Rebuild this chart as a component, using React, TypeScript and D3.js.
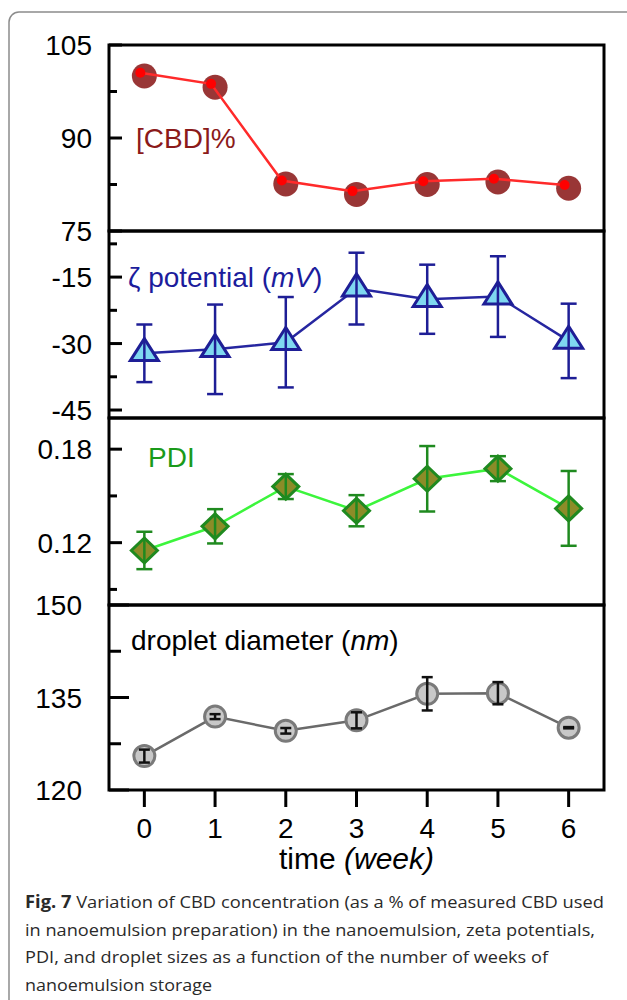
import React from 'react';
import * as d3 from 'd3';

// weeks of storage
const weeks = [0, 1, 2, 3, 4, 5, 6];

// [CBD]%
const cbdPercent = [100.0, 98.2, 82.6, 80.9, 82.5, 82.9, 81.9];
const cbdTicks = [105, 90, 75];
const cbdMinor = [97.5, 82.5];

// zeta potential (mV)
const zetaMean = [-32.2, -31.3, -29.7, -17.6, -20.0, -19.4, -29.4];
const zetaErr = [6.5, 10.1, 10.2, 8.1, 7.8, 9.1, 8.4];
const zetaTicks = [-15, -30, -45];
const zetaMinor = [-7.5, -22.5, -37.5];

// PDI
const pdiMean = [0.115, 0.1305, 0.156, 0.1405, 0.161, 0.1675, 0.142];
const pdiErr = [0.012, 0.011, 0.008, 0.01, 0.021, 0.008, 0.024];
const pdiTicks = [0.18, 0.12];
const pdiMinor = [0.15, 0.09];

// droplet diameter (nm)
const diameterMean = [125.5, 131.9, 129.6, 131.3, 135.6, 135.7, 130.1];
const diameterErr = [1.05, 0.4, 0.45, 1.3, 2.7, 1.8, 0.1];
const diameterTicks = [150, 135, 120];
const diameterMinor = [142.5, 127.5];

const captionLines = [
  'Variation of CBD concentration (as a % of measured CBD used',
  'in nanoemulsion preparation) in the nanoemulsion, zeta potentials,',
  'PDI, and droplet sizes as a function of the number of weeks of',
  'nanoemulsion storage',
];

const W = 627;
const H = 1000;
const left = 109;
const right = 604;
const bounds = [45, 231, 418, 605, 790];
const font = '"Liberation Sans", Arial, sans-serif';

const x = d3.scaleLinear().domain([-0.5, 6.5]).range([left, right]);

const yCbd = d3.scaleLinear().domain([75, 105]).range([bounds[1], bounds[0]]);
const yZeta = d3.scaleLinear().domain([-46.8, -4.6]).range([bounds[2], bounds[1]]);
const yPdi = d3.scaleLinear().domain([0.08, 0.2]).range([bounds[3], bounds[2]]);
const yDia = d3.scaleLinear().domain([120, 150]).range([bounds[4], bounds[3]]);

const fmt = (v) => (Math.abs(v) < 1 ? d3.format('.2f')(v) : String(v));

const YAxis = ({ y, ticks, minor, labelX, majorLen, minorLen }) => (
  <g>
    {ticks.map((t) => (
      <g key={'M' + t}>
        <line x1={left} x2={left + majorLen} y1={y(t)} y2={y(t)} stroke="#000" strokeWidth={3} />
        <text x={labelX} y={y(t)} dy="0.36em" textAnchor="end" fontSize={28} fontFamily={font} fill="#000">
          {fmt(t)}
        </text>
      </g>
    ))}
    {minor.map((t) => (
      <line key={'m' + t} x1={left} x2={left + minorLen} y1={y(t)} y2={y(t)} stroke="#000" strokeWidth={3} />
    ))}
  </g>
);

const ErrorBars = ({ y, mean, err, color, cap = 16, width = 2.5 }) => (
  <g stroke={color} strokeWidth={width}>
    {weeks.map((w, i) => {
      const cx = x(w);
      const y1 = y(mean[i] + err[i]);
      const y2 = y(mean[i] - err[i]);
      return (
        <g key={w}>
          <line x1={cx} x2={cx} y1={y1} y2={y2} />
          <line x1={cx - cap / 2} x2={cx + cap / 2} y1={y1} y2={y1} />
          <line x1={cx - cap / 2} x2={cx + cap / 2} y1={y2} y2={y2} />
        </g>
      );
    })}
  </g>
);

export default function App() {
  const cbdLine = d3.line().x((d) => x(d[0]) - 4).y((d) => yCbd(d[1]) - 3.3);
  const zetaLine = d3.line().x((d) => x(d[0])).y((d) => yZeta(d[1]));
  const pdiLine = d3.line().x((d) => x(d[0])).y((d) => yPdi(d[1]));
  const diaLine = d3.line().x((d) => x(d[0])).y((d) => yDia(d[1]));

  return (
    <svg
      width={W}
      height={H}
      viewBox={`0 0 ${W} ${H}`}
      style={{ position: 'absolute', left: 0, top: 0, background: '#fff' }}
    >
      {/* card */}
      <rect x={9} y={12} width={700} height={1100} rx={10} fill="#fff" stroke="#8c8c8c" strokeWidth={1.5} />

      {/* panel 1: CBD % */}
      <g>
        {weeks.map((w, i) => (
          <circle key={w} cx={x(w)} cy={yCbd(cbdPercent[i])} r={12.5} fill="#8b1a1a" fillOpacity={0.88} />
        ))}
        <path d={cbdLine(weeks.map((w, i) => [w, cbdPercent[i]]))} fill="none" stroke="#ff2a2a" strokeWidth={2.5} />
        {weeks.map((w, i) => (
          <circle key={w} cx={x(w) - 4} cy={yCbd(cbdPercent[i]) - 3.3} r={5} fill="#ff0000" />
        ))}
        <text x={136} y={138} dy="0.36em" fontSize={28} fontFamily={font} fill="#8b1a1a">
          [CBD]%
        </text>
        <YAxis y={yCbd} ticks={cbdTicks} minor={cbdMinor} labelX={92} majorLen={13} minorLen={8} />
      </g>

      {/* panel 2: zeta potential */}
      <g>
        <path d={zetaLine(weeks.map((w, i) => [w, zetaMean[i]]))} fill="none" stroke="#2626a0" strokeWidth={2.5} />
        {weeks.map((w, i) => {
          const cx = x(w);
          const cy = yZeta(zetaMean[i]);
          return (
            <path
              key={w}
              d={`M${cx},${cy - 14.7}L${cx + 14},${cy + 7.3}L${cx - 14},${cy + 7.3}Z`}
              fill="#7fd8f0"
              stroke="#1e1e96"
              strokeWidth={3}
              strokeLinejoin="miter"
            />
          );
        })}
        <ErrorBars y={yZeta} mean={zetaMean} err={zetaErr} color="#1e1e96" />
        <text x={128} y={277} dy="0.36em" fontSize={28} fontFamily={font} fill="#1c1c9c">
          ζ potential (<tspan fontStyle="italic">mV</tspan>)
        </text>
        <YAxis y={yZeta} ticks={zetaTicks} minor={zetaMinor} labelX={92} majorLen={13} minorLen={8} />
      </g>

      {/* panel 3: PDI */}
      <g>
        <path d={pdiLine(weeks.map((w, i) => [w, pdiMean[i]]))} fill="none" stroke="#3cf53c" strokeWidth={2.5} />
        {weeks.map((w, i) => {
          const cx = x(w);
          const cy = yPdi(pdiMean[i]);
          return (
            <path
              key={w}
              d={`M${cx},${cy - 12.5}L${cx + 13},${cy}L${cx},${cy + 12.5}L${cx - 13},${cy}Z`}
              fill="#8c8c28"
              stroke="#1f8a1f"
              strokeWidth={3}
            />
          );
        })}
        <ErrorBars y={yPdi} mean={pdiMean} err={pdiErr} color="#1f8a1f" />
        <text x={148} y={457} dy="0.36em" fontSize={28} fontFamily={font} fill="#1a9a1a">
          PDI
        </text>
        <YAxis y={yPdi} ticks={pdiTicks} minor={pdiMinor} labelX={92} majorLen={13} minorLen={8} />
      </g>

      {/* panel 4: droplet diameter */}
      <g>
        <path d={diaLine(weeks.map((w, i) => [w, diameterMean[i]]))} fill="none" stroke="#6a6a6a" strokeWidth={2.5} />
        {weeks.map((w, i) => (
          <circle key={w} cx={x(w)} cy={yDia(diameterMean[i])} r={10.5} fill="#c8c8c8" stroke="#7a7a7a" strokeWidth={3} />
        ))}
        <ErrorBars y={yDia} mean={diameterMean} err={diameterErr} color="#111" cap={11} />
        <text x={131} y={640} dy="0.36em" fontSize={28} fontFamily={font} fill="#000">
          droplet diameter (<tspan fontStyle="italic">nm</tspan>)
        </text>
        <YAxis y={yDia} ticks={diameterTicks} minor={diameterMinor} labelX={82} majorLen={20} minorLen={12} />
      </g>

      {/* frames */}
      {[0, 1, 2, 3].map((p) => (
        <rect
          key={p}
          x={left}
          y={bounds[p]}
          width={right - left}
          height={bounds[p + 1] - bounds[p]}
          fill="none"
          stroke="#000"
          strokeWidth={3}
        />
      ))}

      {/* x axis */}
      {weeks.map((w) => (
        <g key={w}>
          <line x1={x(w)} x2={x(w)} y1={bounds[4]} y2={bounds[4] + 17} stroke="#000" strokeWidth={3} />
          <text x={x(w)} y={828} dy="0.36em" textAnchor="middle" fontSize={28} fontFamily={font} fill="#000">
            {w}
          </text>
        </g>
      ))}
      <text x={(left + right) / 2} y={858} dy="0.36em" textAnchor="middle" fontSize={30} fontFamily={font} fill="#000">
        time <tspan fontStyle="italic">(week)</tspan>
      </text>

      {/* caption */}
      <g fontFamily='"Open Sans", "Noto Sans", sans-serif' fontSize={17} fill="#2a2a2a">
        <text x={25} y={902} dy="0.36em" textLength={579} lengthAdjust="spacingAndGlyphs">
          <tspan fontWeight="bold">Fig. 7</tspan> {captionLines[0]}
        </text>
        <text x={25} y={930} dy="0.36em" textLength={570} lengthAdjust="spacingAndGlyphs">
          {captionLines[1]}
        </text>
        <text x={25} y={957} dy="0.36em" textLength={523} lengthAdjust="spacingAndGlyphs">
          {captionLines[2]}
        </text>
        <text x={25} y={985} dy="0.36em" textLength={187} lengthAdjust="spacingAndGlyphs">
          {captionLines[3]}
        </text>
      </g>
    </svg>
  );
}
